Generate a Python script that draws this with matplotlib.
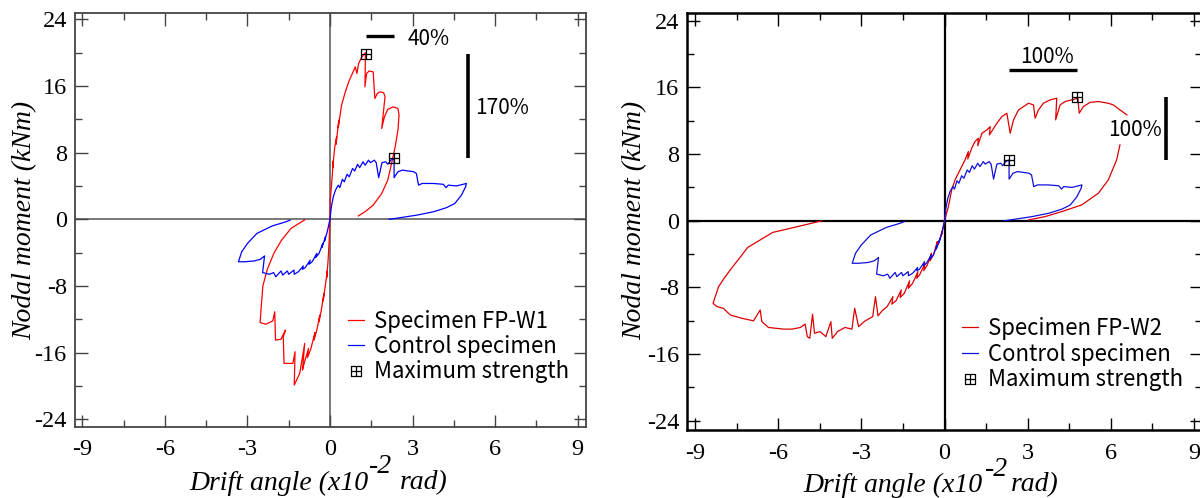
import numpy as np
import matplotlib
matplotlib.use("Agg")
import matplotlib.pyplot as plt
from matplotlib.path import Path

# ---------------- data ----------------
x_major = [-9, -6, -3, 0, 3, 6, 9]
x_labels = ["-9", "-6", "-3", "0", "3", "6", "9"]
x_minor = [-7.5, -4.5, -1.5, 1.5, 4.5, 7.5]
y_major = [-24, -16, -8, 0, 8, 16, 24]
y_labels = ["-24", "-16", "-8", "0", "8", "16", "24"]
y_minor = [-20, -12, -4, 4, 12, 20]

# control specimen (same in both panels)
ctrl_pos_x = [0, 0.05, 0.12, 0.2, 0.3, 0.36, 0.45, 0.52, 0.62, 0.7, 0.82, 0.9, 1.0, 1.08, 1.2,
              1.28, 1.4, 1.47, 1.61, 1.68, 1.77, 1.89, 2.03, 2.1, 2.21, 2.33, 2.33, 2.47, 2.63, 2.85,
              3.05, 3.14, 3.22, 3.35, 3.75, 4.12, 4.22, 4.3, 4.6, 4.96, 4.93, 4.78, 4.54, 4.24, 3.76,
              3.16, 2.57, 2.15]
ctrl_pos_y = [0, 1.5, 2.7, 3.5, 4.1, 3.8, 4.8, 4.5, 5.4, 5.1, 6.1, 5.8, 6.6, 6.2, 6.9,
              6.5, 7.1, 6.8, 7.1, 6.8, 5.0, 6.8, 6.9, 6.6, 7.1, 7.3, 5.0, 5.7, 5.9, 5.8,
              5.7, 5.5, 4.1, 4.3, 4.3, 4.2, 3.8, 4.1, 4.0, 4.3, 3.9, 2.9, 1.9, 1.4, 0.9,
              0.5, 0.2, 0.0]
ctrl_neg_x = [0, -0.1, -0.2, -0.16, -0.3, -0.26, -0.4, -0.52, -0.48, -0.65, -0.76, -0.72, -0.9, -1.0,
              -0.97, -1.15, -1.3, -1.31, -1.5, -1.55, -1.72, -1.78, -1.97, -2.05, -2.2, -2.45, -2.38,
              -2.53, -2.75, -3.1, -3.33, -3.21, -3.0, -2.66, -2.1, -1.6, -1.45]
ctrl_neg_y = [0, -1.5, -2.6, -2.1, -3.4, -2.9, -4.1, -4.6, -4.1, -5.1, -5.4, -4.9, -5.8, -6.0,
              -5.6, -6.3, -6.6, -6.1, -6.6, -6.2, -6.7, -6.2, -6.9, -6.4, -6.6, -6.4, -4.4,
              -4.8, -5.0, -5.1, -5.1, -3.9, -2.9, -1.7, -0.8, -0.3, -0.1]
ctrl_max_x = [2.33]
ctrl_max_y = [7.3]

# specimen FP-W1
w1_pos_x = [0, 0.01, 0.06, 0.12, 0.1, 0.17, 0.24, 0.22, 0.32, 0.3, 0.42, 0.54, 0.68, 0.84, 0.92,
            0.98, 1.04, 1.16, 1.29, 1.27, 1.33, 1.42, 1.57, 1.63, 1.72, 1.82, 1.95, 2.0, 1.88, 1.98,
            2.1, 2.3, 2.47, 2.51, 2.47, 2.37, 2.24, 2.1, 1.88, 1.57, 1.27, 1.03]
w1_pos_y = [0, 2.3, 4.3, 7.0, 6.2, 8.6, 9.9, 9.0, 11.9, 11.0, 13.7, 15.1, 16.5, 17.7, 18.3,
            17.5, 18.7, 19.5, 20.0, 15.9, 17.5, 17.8, 17.7, 14.5, 15.1, 15.3, 15.2, 14.7, 10.9, 12.3,
            13.2, 13.5, 13.3, 12.5, 10.7, 8.7, 6.7, 4.7, 3.1, 1.7, 0.9, 0.4]
w1_neg_x = [0, -0.03, -0.07, -0.12, -0.1, -0.18, -0.25, -0.22, -0.32, -0.4, -0.37, -0.48, -0.58,
            -0.55, -0.7, -0.82, -0.78, -0.95, -1.0, -0.92, -1.1, -1.3, -1.27, -1.35, -1.67, -1.7,
            -1.62, -1.78, -1.98, -2.01, -2.08, -2.33, -2.54, -2.51, -2.44, -2.28, -2.03, -1.76, -1.42, -0.91]
w1_neg_y = [0, -2.5, -5.0, -7.0, -6.2, -8.2, -9.8, -8.9, -11.0, -12.3, -11.5, -13.3, -14.5,
            -13.6, -15.6, -16.6, -15.5, -17.4, -18.1, -14.9, -18.5, -19.9, -15.9, -17.3, -17.3, -14.1,
            -13.3, -14.4, -14.5, -11.1, -12.2, -12.6, -12.4, -10.9, -8.0, -6.0, -4.0, -2.5, -1.1, -0.05]
w1_max_x = [1.31]
w1_max_y = [19.9]

# specimen FP-W2
w2_pos_x = [0, 0.14, 0.26, 0.38, 0.56, 0.74, 0.86, 0.84, 0.98, 1.10, 1.22, 1.2, 1.35, 1.53, 1.65,
            1.62, 1.89, 2.07, 2.25, 2.37, 2.49, 2.67, 2.85, 3.03, 3.21, 3.27, 3.39, 3.57, 3.81, 4.05,
            4.01, 4.17, 4.35, 4.59, 4.81, 4.86, 5.01, 5.25, 5.55, 5.91, 6.09, 6.33, 6.58, np.nan, 6.33,
            6.21, 5.91, 5.55, 4.95, 4.23, 3.63, 3.03]
w2_pos_y = [0, 1.7, 3.7, 4.9, 6.1, 7.3, 8.3, 7.4, 8.7, 9.5, 9.9, 9.0, 10.5, 10.9, 11.3,
            10.3, 11.7, 12.5, 12.9, 10.5, 12.1, 13.3, 13.7, 14.1, 13.9, 12.3, 13.3, 14.1, 14.5, 14.7,
            12.1, 13.9, 14.3, 14.5, 14.7, 12.9, 13.7, 14.2, 14.3, 14.1, 13.9, 13.3, 12.7, np.nan, 9.1,
            7.3, 4.9, 3.3, 1.9, 1.1, 0.5, 0.1]
w2_neg_x = [0, -0.05, -0.12, -0.09, -0.2, -0.3, -0.26, -0.4, -0.52, -0.47, -0.62, -0.75, -0.7, -0.9,
            -1.0, -0.96, -1.15, -1.3, -1.26, -1.45, -1.6, -1.56, -1.75, -1.9, -1.86, -2.07, -2.25, -2.4,
            -2.49, -2.59, -2.75, -2.9, -3.1, -3.24, -3.34, -3.59, -3.86, -4.05, -4.1, -4.28, -4.49,
            -4.69, -4.76, -4.86, -4.95, -5.03, -5.2, -5.5, -5.8, -6.35, -6.59, -6.65, -6.89, -7.31,
            -7.73, -7.98, -8.21, -8.35, -8.25, -8.15, -7.95, -7.73, -7.4, -7.1, -6.2, -5.3, -4.42]
w2_neg_y = [0, -0.9, -1.9, -1.3, -2.6, -3.3, -2.5, -4.1, -4.8, -3.9, -5.3, -6.0, -5.1, -6.5,
            -6.9, -6.1, -7.5, -8.1, -7.2, -8.7, -9.2, -8.3, -9.6, -10.0, -9.1, -10.3, -10.8, -11.4,
            -9.1, -11.5, -11.8, -12.1, -12.7, -10.5, -13.0, -12.8, -13.3, -14.1, -12.1, -13.9, -13.3,
            -13.5, -11.2, -14.1, -13.9, -12.4, -12.8, -13.0, -13.0, -12.8, -12.1, -10.7, -12.0, -11.7,
            -11.3, -10.5, -10.3, -9.9, -8.9, -7.9, -6.9, -5.9, -4.5, -3.2, -1.4, -0.7, 0.0]
w2_max_x = [4.78]
w2_max_y = [14.8]

legend_labels_1 = ["Specimen FP-W1", "Control specimen", "Maximum strength"]
legend_labels_2 = ["Specimen FP-W2", "Control specimen", "Maximum strength"]

# ---------------- style ----------------
plt.rcParams['axes.unicode_minus'] = False
plt.rcParams['font.serif'] = ['Liberation Serif', 'DejaVu Serif']
plt.rcParams['font.family'] = ['Liberation Serif', 'DejaVu Serif']
SANS = ['Noto Sans CJK JP', 'DejaVu Sans']
SERIF = ['Liberation Serif', 'DejaVu Serif']

box_plus = Path([(-1, -1), (1, -1), (1, 1), (-1, 1), (-1, -1), (0, -1), (0, 1), (-1, 0), (1, 0)],
                [Path.MOVETO, Path.LINETO, Path.LINETO, Path.LINETO, Path.CLOSEPOLY,
                 Path.MOVETO, Path.LINETO, Path.MOVETO, Path.LINETO])

fig = plt.figure(figsize=(12, 4.98), dpi=100)
axL = fig.add_axes([74.5 / 1200, (498 - 426.7) / 498, 511.0 / 1200, 414.0 / 498])
axR = fig.add_axes([687.0 / 1200, (498 - 430.0) / 498, 515.0 / 1200, 417.3 / 498])


def setup(ax, xlim, ylim, scol, slw, zcol, zlw):
    ax.set_xlim(*xlim)
    ax.set_ylim(*ylim)
    ax.set_xticks(x_major)
    ax.set_xticklabels(x_labels, fontfamily=SERIF, fontsize=17.5)
    ax.set_xticks(x_minor, minor=True)
    ax.set_yticks(y_major)
    ax.set_yticklabels(y_labels, fontfamily=SERIF, fontsize=17.5)
    ax.set_yticks(y_minor, minor=True)
    ax.tick_params(which='both', direction='in', top=True, right=True, color=scol, width=1.0)
    ax.tick_params(which='major', length=9)
    ax.tick_params(which='minor', length=5)
    ax.tick_params(axis='x', which='major', pad=9)
    ax.tick_params(axis='y', which='major', pad=5.5)
    for s in ax.spines.values():
        s.set_color(scol)
        s.set_linewidth(slw)
    ax.axhline(0, color=zcol, lw=zlw, zorder=1)
    ax.axvline(0, color=zcol, lw=zlw, zorder=1)


setup(axL, (-9.29, 9.29), (-24.9, 24.8), '#444444', 1.3, '#555555', 1.1)
setup(axR, (-9.29, 9.29), (-25.1, 24.96), 'black', 1.8, 'black', 1.6)

# ---------------- left panel ----------------
lr1, = axL.plot(w1_pos_x, w1_pos_y, color='#ff0000', lw=0.9, zorder=3)
axL.plot(w1_neg_x, w1_neg_y, color='#ff0000', lw=0.9, zorder=3)
lb1, = axL.plot(ctrl_pos_x, ctrl_pos_y, color='#0000ff', lw=0.9, zorder=3)
axL.plot(ctrl_neg_x, ctrl_neg_y, color='#0000ff', lw=0.9, zorder=3)
mk1, = axL.plot(w1_max_x + ctrl_max_x, w1_max_y + ctrl_max_y, ls='none', marker=box_plus,
                ms=7.5, mfc='none', mec='black', mew=0.9, zorder=4)

# percentage bars
axL.plot([w1_max_x[0], ctrl_max_x[0]], [22.0, 22.0], color='black', lw=2.4, solid_capstyle='butt')
axL.text(2.82, 21.6, "40%", family=SANS, fontsize=15, ha='left', va='center')
axL.plot([5.01, 5.01], [ctrl_max_y[0], w1_max_y[0]], color='black', lw=2.6, solid_capstyle='butt')
axL.text(5.26, 13.4, "170%", family=SANS, fontsize=15, ha='left', va='center')

axL.legend([lr1, lb1, mk1], legend_labels_1, loc='upper left',
           bbox_to_anchor=(347.5 / 1200, (498 - 310) / 498), bbox_transform=fig.transFigure,
           prop={'family': SANS, 'size': 16}, frameon=False, handlelength=0.72,
           handletextpad=0.48, labelspacing=0.1, borderpad=0, borderaxespad=0, numpoints=1)

# ---------------- right panel ----------------
lr2, = axR.plot(w2_pos_x, w2_pos_y, color='#dd0000', lw=0.9, zorder=3)
axR.plot(w2_neg_x, w2_neg_y, color='#dd0000', lw=0.9, zorder=3)
lb2, = axR.plot(ctrl_pos_x, ctrl_pos_y, color='#1010dd', lw=0.9, zorder=3)
axR.plot(ctrl_neg_x, ctrl_neg_y, color='#1010dd', lw=0.9, zorder=3)
mk2, = axR.plot(w2_max_x + ctrl_max_x, w2_max_y + ctrl_max_y, ls='none', marker=box_plus,
                ms=7.5, mfc='none', mec='black', mew=0.9, zorder=4)

axR.plot([ctrl_max_x[0], w2_max_x[0]], [18.1, 18.1], color='black', lw=2.4, solid_capstyle='butt')
axR.text(3.69, 19.6, "100%", family=SANS, fontsize=15, ha='center', va='center')
axR.plot([7.98, 7.98], [ctrl_max_y[0], w2_max_y[0]], color='black', lw=2.6, solid_capstyle='butt')
axR.text(7.84, 10.9, "100%", family=SANS, fontsize=15, ha='right', va='center')

axR.legend([lr2, lb2, mk2], legend_labels_2, loc='upper left',
           bbox_to_anchor=(961.6 / 1200, (498 - 317) / 498), bbox_transform=fig.transFigure,
           prop={'family': SANS, 'size': 16}, frameon=False, handlelength=0.72,
           handletextpad=0.48, labelspacing=0.12, borderpad=0, borderaxespad=0, numpoints=1)

# ---------------- axis titles ----------------
lab_kw = dict(family=SERIF, style='italic', fontsize=20)
for xc in (25, 635):
    fig.text(xc / 1200, 1 - 220 / 498, "Nodal moment (kNm)", rotation=90, ha='center',
             va='center', **lab_kw)

for (x0, xs, xr, yb, ys) in ((189, 369, 400, 489.5, 473), (803, 985, 1011, 491.5, 476)):
    fig.text(x0 / 1200, (498 - yb) / 498, "Drift angle (x10", ha='left', va='baseline', **lab_kw)
    fig.text(xs / 1200, (498 - ys) / 498, "-2", ha='left', va='baseline', **lab_kw)
    fig.text(xr / 1200, (498 - yb) / 498, "rad)", ha='left', va='baseline', **lab_kw)

fig.savefig("out.png", dpi=100)
